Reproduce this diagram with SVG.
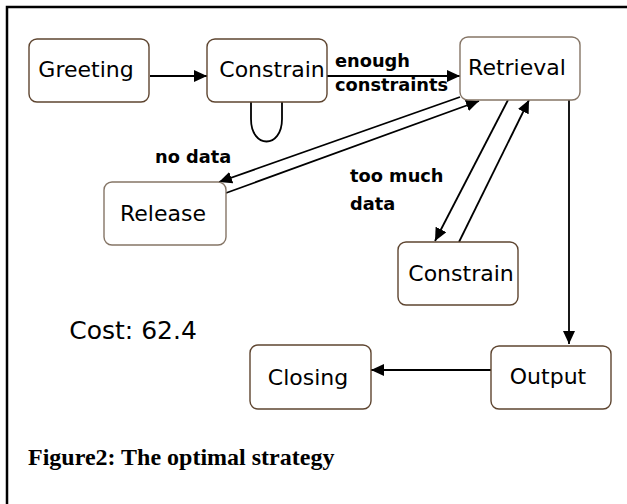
<svg xmlns="http://www.w3.org/2000/svg" width="627" height="504" viewBox="0 0 627 504">
  <style>
    .box { fill: #ffffff; stroke: #5e4530; stroke-width: 1.4; }
    .box.light { stroke: #857566; }
    .lbl { font-family: "DejaVu Sans", "Noto Sans", sans-serif; font-size: 22px; fill: #000; text-anchor: middle; }
    .edge { font-family: "DejaVu Sans", "Noto Sans", sans-serif; font-size: 17.8px; font-weight: bold; fill: #000; }
    .cost { font-family: "DejaVu Sans", "Noto Sans", sans-serif; font-size: 25px; fill: #000; text-anchor: middle; }
    .cap { font-family: "Liberation Serif", "Times New Roman", serif; font-size: 24px; font-weight: bold; fill: #000; }
    .conn { stroke: #000; stroke-width: 1.8; fill: none; }
  </style>
  <defs>
    <marker id="arrow" markerUnits="userSpaceOnUse" markerWidth="14" markerHeight="12" refX="13" refY="6" orient="auto">
      <path d="M0,0 L13,6 L0,12 z" fill="#000"/>
    </marker>
  </defs>

  <rect width="627" height="504" fill="#ffffff"/>
  <!-- outer frame -->
  <rect x="7" y="7" width="640" height="520" fill="none" stroke="#000" stroke-width="2.5"/>

  <!-- transitions -->
  <g id="connectors">
    <line class="conn" x1="150" y1="76" x2="207" y2="76" marker-end="url(#arrow)"/>
    <line class="conn" x1="327" y1="76" x2="460" y2="76" marker-end="url(#arrow)"/>
    <path class="conn" d="M251,102 L251,119 C251,149 282,149 282,119 L282,102"/>
    <line class="conn" x1="460" y1="97" x2="219" y2="182" marker-end="url(#arrow)"/>
    <line class="conn" x1="226" y1="193" x2="479" y2="101" marker-end="url(#arrow)"/>
    <line class="conn" x1="508" y1="100" x2="435" y2="241" marker-end="url(#arrow)"/>
    <line class="conn" x1="459" y1="242" x2="529" y2="100" marker-end="url(#arrow)"/>
    <line class="conn" x1="569" y1="100" x2="569" y2="344" marker-end="url(#arrow)"/>
    <line class="conn" x1="491" y1="370" x2="371" y2="370" marker-end="url(#arrow)"/>
    <text class="edge" x="335" y="67">enough</text>
    <text class="edge" x="335" y="91">constraints</text>
    <text class="edge" x="155" y="163">no data</text>
    <text class="edge" x="350" y="182">too much</text>
    <text class="edge" x="350" y="210">data</text>
  </g>

  <g id="greeting">
    <rect class="box" x="29" y="39" width="120" height="63" rx="8"/>
    <text class="lbl" x="86" y="77">Greeting</text>
  </g>
  <g id="constrain-top">
    <rect class="box" x="207" y="39" width="120" height="63" rx="8"/>
    <text class="lbl" x="272" y="77">Constrain</text>
  </g>
  <g id="retrieval">
    <rect class="box light" x="460" y="37" width="120" height="63" rx="8"/>
    <text class="lbl" x="517" y="75">Retrieval</text>
  </g>
  <g id="release">
    <rect class="box light" x="104" y="182" width="122" height="63" rx="8"/>
    <text class="lbl" x="163" y="221">Release</text>
  </g>
  <g id="constrain-low">
    <rect class="box" x="398" y="242" width="120" height="63" rx="8"/>
    <text class="lbl" x="461" y="281">Constrain</text>
  </g>
  <g id="output">
    <rect class="box" x="491" y="346" width="120" height="63" rx="8"/>
    <text class="lbl" x="548" y="384">Output</text>
  </g>
  <g id="closing">
    <rect class="box" x="250" y="345" width="121" height="64" rx="8"/>
    <text class="lbl" x="308" y="385">Closing</text>
  </g>

  <text class="cost" x="133" y="339">Cost: 62.4</text>
  <text class="cap" x="28" y="465">Figure2: The optimal strategy</text>
</svg>
